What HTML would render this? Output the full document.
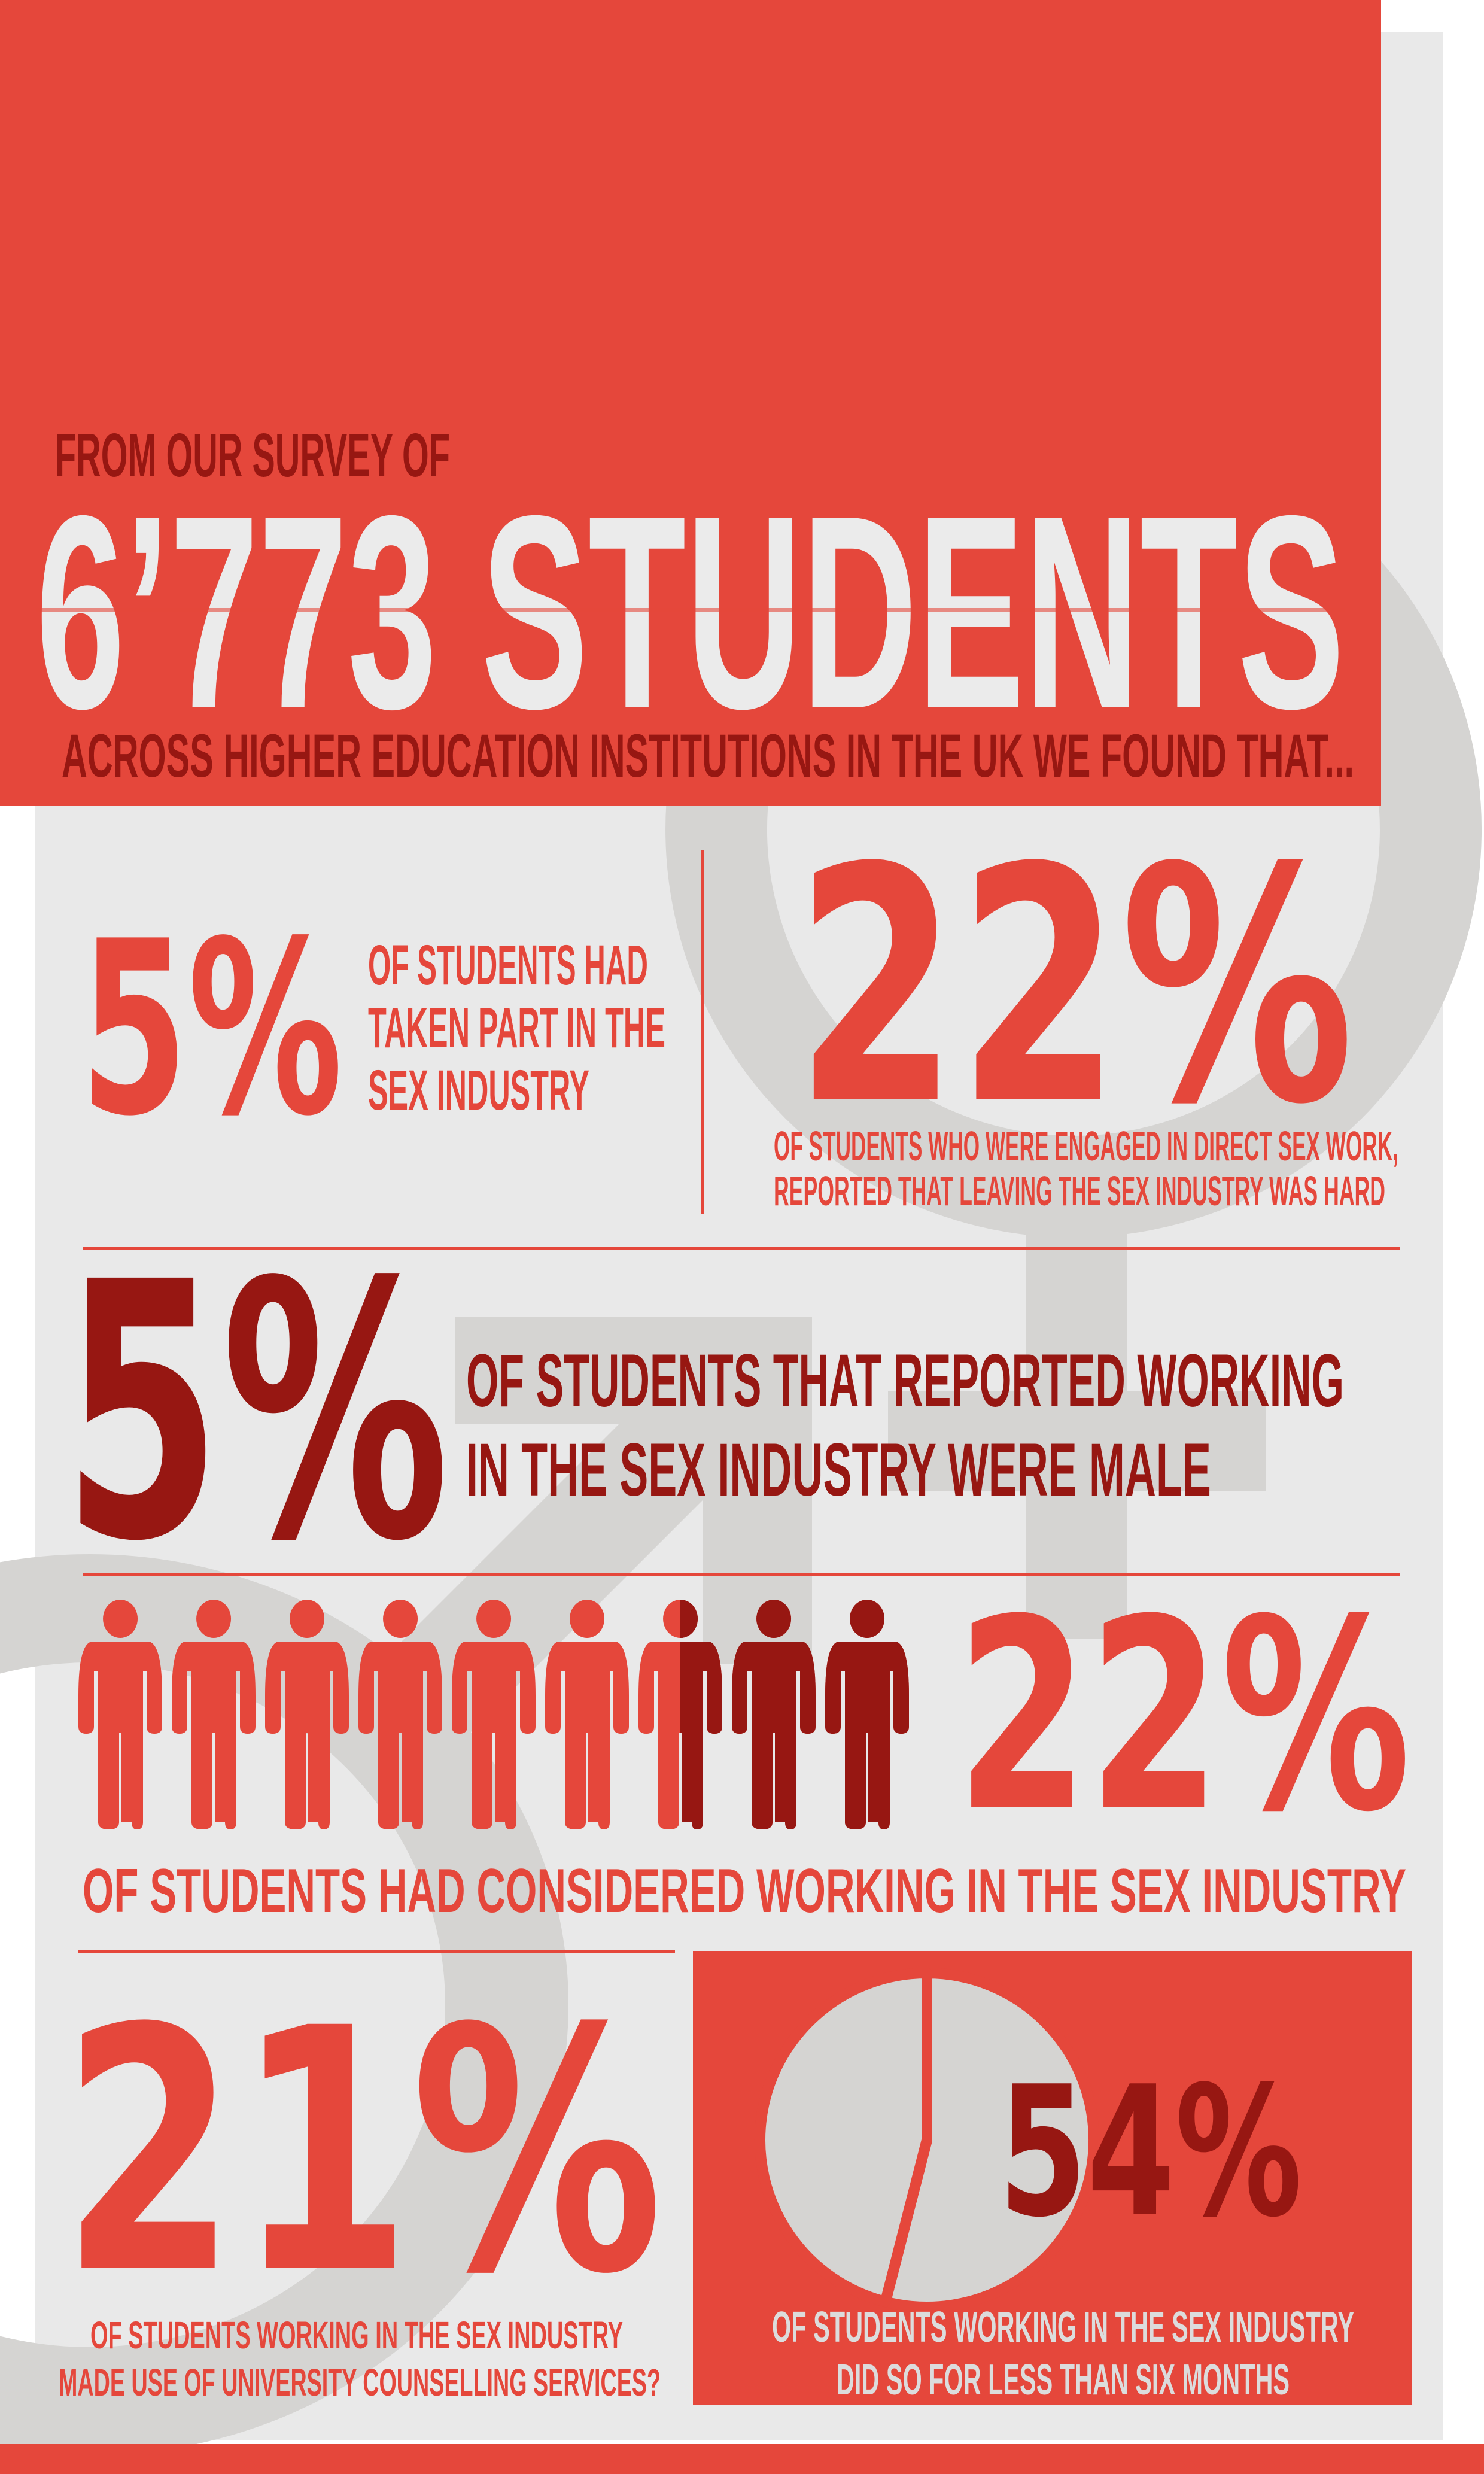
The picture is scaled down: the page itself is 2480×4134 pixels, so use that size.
<!DOCTYPE html>
<html>
<head>
<meta charset="utf-8">
<style>
  html,body{margin:0;padding:0;background:#fff;}
  svg{display:block;}
  .cond{font-family:"Liberation Sans Narrow","Liberation Sans",sans-serif;font-weight:bold;}
  .num{font-family:"DejaVu Sans","Liberation Sans",sans-serif;font-weight:bold;}
</style>
</head>
<body>
<svg id="root" width="2480" height="4134" viewBox="0 0 2480 4134" xmlns="http://www.w3.org/2000/svg">
  <rect x="0" y="0" width="2480" height="4134" fill="#ffffff"/>
  <rect x="58" y="53" width="2353" height="4025" fill="#e9e9e9"/>

  <!-- gender symbols (background) -->
  <g fill="#d5d4d2">
    <path fill-rule="evenodd" d="M1794,704 a682,682 0 1,0 0.1,0 Z M1794,874 a512,512 0 1,1 -0.1,0 Z"/>
    <rect x="1715" y="2030" width="168" height="708"/>
    <rect x="1484" y="2324" width="631" height="167"/>
    <path fill-rule="evenodd" d="M-650,3350 a800,753 0 1,0 1600,0 a800,753 0 1,0 -1600,0 Z M-444,3350 a594,572 0 1,1 1188,0 a594,572 0 1,1 -1188,0 Z"/>
    <polygon points="1034,2380 1175,2380 1175,2506 775,2906 584,2830"/>
    <rect x="760" y="2201" width="597" height="179"/>
    <rect x="1175" y="2201" width="182" height="579"/>
  </g>

  <!-- header -->
  <rect x="0" y="0" width="2308" height="1347" fill="#e5473b"/>
  <text class="cond" x="92" y="796" font-size="103" fill="#971712" textLength="660" lengthAdjust="spacingAndGlyphs">FROM OUR SURVEY OF</text>
  <text class="cond" x="60" y="1182" font-size="460" fill="#ebebeb" textLength="2187" lengthAdjust="spacingAndGlyphs">6’773 STUDENTS</text>
  <rect x="60" y="1016" width="2187" height="6" fill="#e5473b" opacity="0.6"/>
  <text class="cond" x="103" y="1298" font-size="102" fill="#971712" textLength="2160" lengthAdjust="spacingAndGlyphs">ACROSS HIGHER EDUCATION INSTITUTIONS IN THE UK WE FOUND THAT...</text>

  <!-- stat 1 -->
  <text class="num" x="134" y="1858" font-size="400" fill="#e5473b" textLength="439" lengthAdjust="spacingAndGlyphs">5%</text>
  <g class="cond" fill="#e5473b">
    <text x="615" y="1645" font-size="95" textLength="468" lengthAdjust="spacingAndGlyphs">OF STUDENTS HAD</text>
    <text x="615" y="1750" font-size="95" textLength="497" lengthAdjust="spacingAndGlyphs">TAKEN PART IN THE</text>
    <text x="615" y="1854" font-size="95" textLength="370" lengthAdjust="spacingAndGlyphs">SEX INDUSTRY</text>
  </g>
  <rect x="1172" y="1420" width="4" height="609" fill="#e5473b"/>

  <!-- stat 2 -->
  <text class="num" x="1329" y="1836" font-size="540" fill="#e5473b" textLength="934" lengthAdjust="spacingAndGlyphs">22%</text>
  <g class="cond" fill="#e5473b">
    <text x="1293" y="1939" font-size="70" textLength="1044" lengthAdjust="spacingAndGlyphs">OF STUDENTS WHO WERE ENGAGED IN DIRECT SEX WORK,</text>
    <text x="1293" y="2014" font-size="70" textLength="1022" lengthAdjust="spacingAndGlyphs">REPORTED THAT LEAVING THE SEX INDUSTRY WAS HARD</text>
  </g>
  <rect x="138" y="2084" width="2201" height="4" fill="#e5473b"/>

  <!-- stat 3 -->
  <text class="num" x="105" y="2565" font-size="590" fill="#971712" textLength="646" lengthAdjust="spacingAndGlyphs">5%</text>
  <g class="cond" fill="#971712">
    <text x="779" y="2350" font-size="125" textLength="1467" lengthAdjust="spacingAndGlyphs">OF STUDENTS THAT REPORTED WORKING</text>
    <text x="779" y="2499" font-size="125" textLength="1245" lengthAdjust="spacingAndGlyphs">IN THE SEX INDUSTRY WERE MALE</text>
  </g>
  <rect x="138" y="2628" width="2201" height="5" fill="#e5473b"/>

  <!-- people chart -->
  <g id="people"></g>
  <text class="num" x="1598" y="3020" font-size="440" fill="#e5473b" textLength="760" lengthAdjust="spacingAndGlyphs">22%</text>
  <text class="cond" x="138" y="3195" font-size="104" fill="#e5473b" textLength="2212" lengthAdjust="spacingAndGlyphs">OF STUDENTS HAD CONSIDERED WORKING IN THE SEX INDUSTRY</text>
  <rect x="131" y="3259" width="997" height="4" fill="#e5473b"/>

  <!-- stat 21 -->
  <text class="num" x="103" y="3790" font-size="560" fill="#e5473b" textLength="1005" lengthAdjust="spacingAndGlyphs">21%</text>
  <g class="cond" fill="#e5473b">
    <text x="151" y="3924" font-size="64" textLength="890" lengthAdjust="spacingAndGlyphs">OF STUDENTS WORKING IN THE SEX INDUSTRY</text>
    <text x="98" y="4003" font-size="64" textLength="1006" lengthAdjust="spacingAndGlyphs">MADE USE OF UNIVERSITY COUNSELLING SERVICES?</text>
  </g>

  <!-- pie box -->
  <rect x="1158" y="3260" width="1201" height="759" fill="#e5473b"/>
  <g id="pie"></g>
  <text class="num" x="1669" y="3700" font-size="300" fill="#971712" textLength="507" lengthAdjust="spacingAndGlyphs">54%</text>
  <g class="cond" fill="#dcdcdc">
    <text x="1290" y="3913" font-size="72" textLength="973" lengthAdjust="spacingAndGlyphs">OF STUDENTS WORKING IN THE SEX INDUSTRY</text>
    <text x="1398" y="4001" font-size="72" textLength="757" lengthAdjust="spacingAndGlyphs">DID SO FOR LESS THAN SIX MONTHS</text>
  </g>

  <rect x="0" y="4084" width="2480" height="50" fill="#e5473b"/>
</svg>

<script>
// ---- people chart data ----
const peopleLabels = ["p1","p2","p3","p4","p5","p6","p7","p8","p9"];
const peopleDarkShare = [0, 0, 0, 0, 0, 0, 0.5, 1, 1];
// ---- pie chart data ----
const pieCategories = ["less than six months", "six months or more"];
const pieValues = [54, 46];

const NS = "http://www.w3.org/2000/svg";
const LIGHT = "#e5473b", DARK = "#971712";

// people axis
const peopleX0 = 131, peopleStep = 156, peopleTop = 2673, figW = 140;
function peopleX(i){ return peopleX0 + i * peopleStep; }

function figurePath(x, y){
  // head
  const head = `M${x+70},${y} a29,32 0 1,0 0.1,0 Z`;
  // body: shoulders, arms, torso, legs
  const body =
    `M${x+22},${y+70} L${x+118},${y+70} Q${x+140},${y+75} ${x+140},${y+160} L${x+140},${y+212} Q${x+140},${y+224} ${x+127},${y+224} Q${x+114},${y+224} ${x+114},${y+212} L${x+114},${y+120} L${x+108},${y+120} L${x+108},${y+372} Q${x+108},${y+384} ${x+98},${y+384} Q${x+89},${y+384} ${x+89},${y+372}` +
    ` L${x+72},${y+372} L${x+72},${y+223} L${x+68},${y+223} L${x+68},${y+372} Q${x+68},${y+384} ${x+51},${y+384}` +
    ` Q${x+33},${y+384} ${x+33},${y+372} L${x+33},${y+120} L${x+26},${y+120} L${x+26},${y+212} Q${x+26},${y+224} ${x+13},${y+224} Q${x},${y+224} ${x},${y+212} L${x},${y+160} Q${x},${y+75} ${x+22},${y+70} Z`;
  return head + " " + body;
}

const peopleG = document.getElementById("people");
const defs = document.createElementNS(NS, "defs");
document.getElementById("root").insertBefore(defs, document.getElementById("root").firstChild);

peopleLabels.forEach((lab, i) => {
  const x = peopleX(i);
  const g = document.createElementNS(NS, "g");
  
  
  const base = document.createElementNS(NS, "path");
  base.setAttribute("d", figurePath(x, peopleTop));
  base.setAttribute("fill", LIGHT);
  
  
  g.appendChild(base);
  const share = peopleDarkShare[i];
  if (share > 0) {
    const cp = document.createElementNS(NS, "clipPath");
    cp.setAttribute("id", "pc" + i);
    const r = document.createElementNS(NS, "rect");
    r.setAttribute("x", x + figW * (1 - share));
    r.setAttribute("y", peopleTop - 5);
    r.setAttribute("width", figW * share + 2);
    r.setAttribute("height", 400);
    cp.appendChild(r);
    defs.appendChild(cp);
    const dk = document.createElementNS(NS, "path");
    dk.setAttribute("d", figurePath(x, peopleTop));
    dk.setAttribute("fill", DARK);
    dk.setAttribute("clip-path", "url(#pc" + i + ")");
    
    
    g.appendChild(dk);
  }
  peopleG.appendChild(g);
});

// pie
const pieCx = 1549, pieCy = 3576, pieR = 279;
const pieG = document.getElementById("pie");
const pieTotal = pieValues.reduce((a, b) => a + b, 0);
function angleOf(v){ return v / pieTotal * Math.PI * 2; }
let acc = 0;
pieValues.forEach((v, i) => {
  const a0 = angleOf(acc), a1 = angleOf(acc + v);
  acc += v;
  const x0 = pieCx + pieR * Math.sin(a0), y0 = pieCy - pieR * Math.cos(a0);
  const x1 = pieCx + pieR * Math.sin(a1), y1 = pieCy - pieR * Math.cos(a1);
  const large = (a1 - a0) > Math.PI ? 1 : 0;
  const p = document.createElementNS(NS, "path");
  p.setAttribute("d", `M${pieCx},${pieCy} L${x0},${y0} A${pieR},${pieR} 0 ${large},1 ${x1},${y1} Z`);
  p.setAttribute("fill", "#d5d4d2");
  p.setAttribute("stroke", LIGHT);
  p.setAttribute("stroke-width", "18");
  p.setAttribute("stroke-linejoin", "round");
  
  
  pieG.appendChild(p);
});
</script>
</body>
</html>
